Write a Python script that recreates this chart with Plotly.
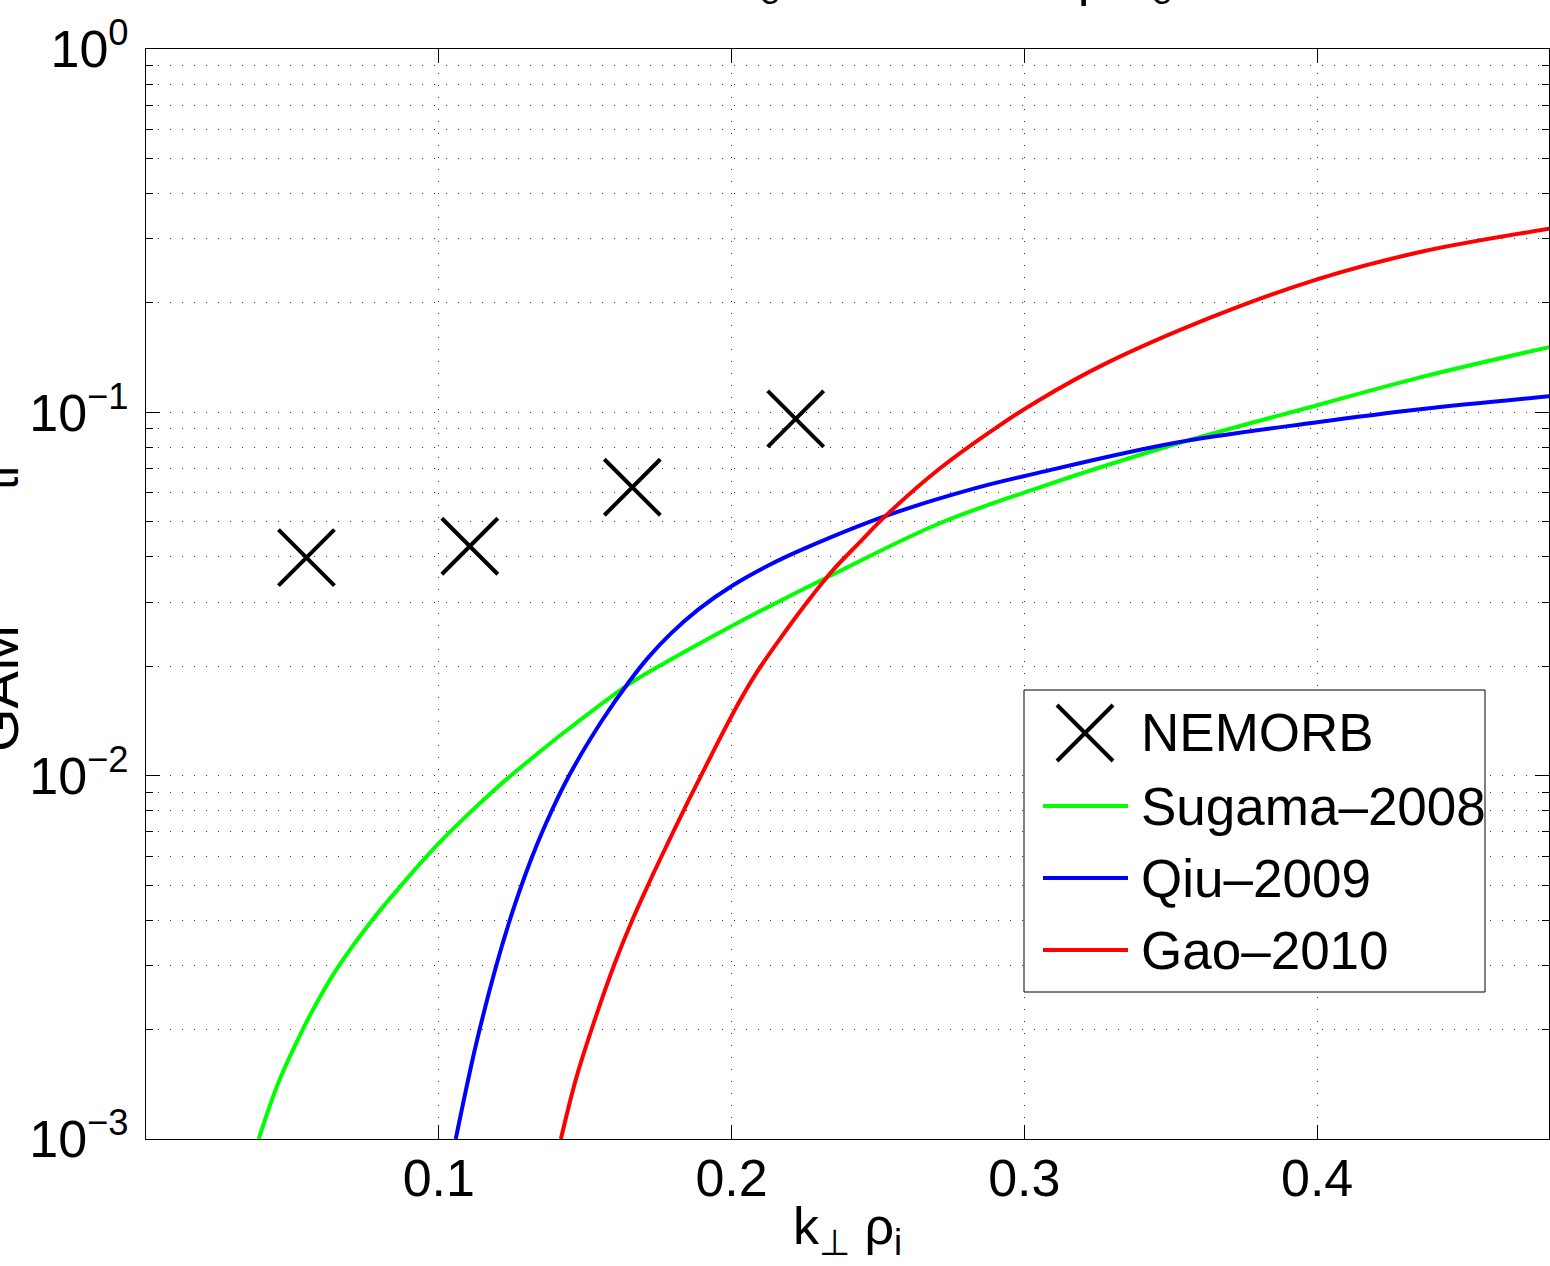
import plotly.graph_objects as go

# ---- data ----
nemorb_k = [0.0548, 0.1106, 0.1661, 0.2219]
nemorb_gamma = [0.0398, 0.0428, 0.0622, 0.0959]

sugama_k = [0.0385, 0.0453, 0.0532, 0.0590, 0.0658, 0.0771, 0.0874, 0.0956, 0.1027, 0.1103,
            0.1171, 0.1239, 0.1342, 0.1444, 0.1650, 0.1820, 0.2001, 0.2172, 0.2343, 0.2709,
            0.3050, 0.3512, 0.4000, 0.4352, 0.4793]
sugama_gamma = [0.00100, 0.001434, 0.001976, 0.002425, 0.002989, 0.003989, 0.005012,
                0.005966, 0.006858, 0.007862, 0.008847, 0.009892, 0.01158, 0.01346, 0.01787,
                0.02148, 0.02582, 0.03046, 0.03568, 0.04943, 0.06209, 0.08154, 0.1046,
                0.1248, 0.1512]

qiu_k = [0.1058, 0.1126, 0.1195, 0.1250, 0.1308, 0.1366, 0.1444, 0.1557, 0.1650, 0.1718,
         0.1796, 0.1888, 0.2001, 0.2127, 0.2254, 0.2527, 0.2821, 0.3050, 0.3512, 0.4000,
         0.4352, 0.4793]
qiu_gamma = [0.00100, 0.001802, 0.002973, 0.004175, 0.005678, 0.007388, 0.009965, 0.01416,
             0.01814, 0.02126, 0.02476, 0.02874, 0.03328, 0.03795, 0.04236, 0.05188,
             0.06145, 0.06823, 0.08236, 0.09391, 0.1020, 0.1107]

gao_k = [0.1417, 0.1468, 0.1523, 0.1598, 0.1660, 0.1728, 0.1786, 0.1854, 0.1933, 0.2025,
         0.2083, 0.2169, 0.2254, 0.2343, 0.2435, 0.2527, 0.2709, 0.2913, 0.3050, 0.3272,
         0.3631, 0.4000, 0.4352, 0.4793]
gao_gamma = [0.00100, 0.001457, 0.002015, 0.002999, 0.003989, 0.005272, 0.006611, 0.008572,
             0.01147, 0.01589, 0.01907, 0.02401, 0.02972, 0.03652, 0.04367, 0.05195, 0.06982,
             0.09180, 0.1080, 0.1355, 0.1816, 0.2323, 0.2762, 0.3200]

series_names = ["NEMORB", "Sugama\u20132008", "Qiu\u20132009", "Gao\u20132010"]
series_colors = ["#000000", "#00ff00", "#0000ff", "#ff0000"]

x_ticks = [0.1, 0.2, 0.3, 0.4]
x_ticktext = ["0.1", "0.2", "0.3", "0.4"]
y_ticks = [1e-3, 1e-2, 1e-1, 1e0]
y_ticktext = ["10<sup>\u22123</sup>", "10<sup>\u22122</sup>", "10<sup>\u22121</sup>", "10<sup>0</sup>"]
y_minor = [m * 10.0 ** e for e in (-3, -2, -1) for m in range(2, 10)]

FONT = "Liberation Sans, Arial, Helvetica, sans-serif"
FS = 52
LW = 4

# plot-area geometry in pixels (for placing decorations in paper coordinates)
W, H = 1550, 1266
L, R, T, B = 146, 1, 49, 127
PW, PH = W - L - R, H - T - B


def px(xp):
    return (xp - L) / PW


def py(yp):
    return (H - B - yp) / PH


fig = go.Figure()
fig.add_trace(go.Scatter(x=nemorb_k, y=nemorb_gamma, mode="markers", name=series_names[0],
                         marker=dict(symbol="x-thin", size=56, color=series_colors[0],
                                     line=dict(color=series_colors[0], width=LW))))
for name, col, xs, ys in [(series_names[1], series_colors[1], sugama_k, sugama_gamma),
                          (series_names[2], series_colors[2], qiu_k, qiu_gamma),
                          (series_names[3], series_colors[3], gao_k, gao_gamma)]:
    fig.add_trace(go.Scatter(x=xs, y=ys, mode="lines", name=name,
                             line=dict(color=col, width=LW, shape="spline", smoothing=1.0)))

grid_col = "#303030"
fig.update_layout(
    width=W, height=H,
    margin=dict(l=L, r=R, t=T, b=B, autoexpand=False),
    paper_bgcolor="white", plot_bgcolor="white",
    font=dict(family=FONT, size=FS, color="black"),
    showlegend=False,
    xaxis=dict(range=[0, 0.4792], tickvals=x_ticks, ticktext=x_ticktext,
               showline=True, linecolor="black", linewidth=1, mirror="ticks",
               ticks="inside", ticklen=14, tickcolor="black", tickwidth=1,
               showgrid=True, gridcolor=grid_col, gridwidth=1, griddash="1px,11px",
               zeroline=False, ticklabelstandoff=-6,
               title=dict(text="k<sub>\u22a5</sub> \u03c1<sub>i</sub>", standoff=1,
                          font=dict(family=FONT, size=FS))),
    yaxis=dict(type="log", range=[-3, 0], tickvals=y_ticks, ticktext=y_ticktext,
               showline=True, linecolor="black", linewidth=1, mirror="ticks",
               ticks="inside", ticklen=14, tickcolor="black", tickwidth=1,
               showgrid=True, gridcolor=grid_col, gridwidth=1, griddash="1px,11px",
               zeroline=False, ticklabelstandoff=6,
               minor=dict(tickvals=y_minor, ticks="inside", ticklen=7, tickcolor="black",
                          showgrid=True, gridcolor=grid_col, gridwidth=1,
                          griddash="1px,11px")),
)

# ---- legend box (drawn as in the reference, with a large X symbol) ----
shapes = []
shapes.append(dict(type="rect", xref="paper", yref="paper", layer="above",
                   x0=px(1024), x1=px(1485), y0=py(992), y1=py(690),
                   fillcolor="white", line=dict(color="black", width=1)))
mx, my, mr = 1085, 733, 28
shapes.append(dict(type="path", xref="paper", yref="paper", layer="above",
                   path=f"M{px(mx - mr)},{py(my - mr)} L{px(mx + mr)},{py(my + mr)} "
                        f"M{px(mx - mr)},{py(my + mr)} L{px(mx + mr)},{py(my - mr)}",
                   line=dict(color=series_colors[0], width=LW)))
row_y = [733, 806, 878, 950]
for col, yy in zip(series_colors[1:], row_y[1:]):
    shapes.append(dict(type="line", xref="paper", yref="paper", layer="above",
                       x0=px(1043), x1=px(1128), y0=py(yy), y1=py(yy),
                       line=dict(color=col, width=LW)))
fig.update_layout(shapes=shapes)
for name, yy in zip(series_names, row_y):
    fig.add_annotation(text=name, xref="paper", yref="paper", x=px(1139), y=py(yy),
                       xanchor="left", yanchor="middle", showarrow=False,
                       font=dict(family=FONT, size=53, color="black"))

# ---- y-axis label (clipped at the left edge in the reference) ----
ylabel_parts = [("GAM", 56, -2, 688), ("ti", 48, 1, 478), ("\u03b3", 70, -40, 785),
                ("[\u03c9", 70, -40, 590), ("]", 70, -40, 380)]
for txt, fs, cx, cy in ylabel_parts:
    fig.add_annotation(text=txt, textangle=-90, xref="paper", yref="paper",
                       x=px(cx), y=py(cy), xanchor="center", yanchor="middle",
                       showarrow=False, font=dict(family=FONT, size=fs, color="black"))

# ---- title (mostly above the visible page) ----
for txt, xl, yb in [("T<sub>e</sub>", 726, 14), ("\u03c1", 1076, 8), ("T<sub>e</sub>", 1118, 14)]:
    fig.add_annotation(text=txt, xref="paper", yref="paper", x=px(xl), y=py(yb),
                       xanchor="left", yanchor="bottom", showarrow=False,
                       font=dict(family=FONT, size=FS, color="black"))

fig.write_html("out.html")
